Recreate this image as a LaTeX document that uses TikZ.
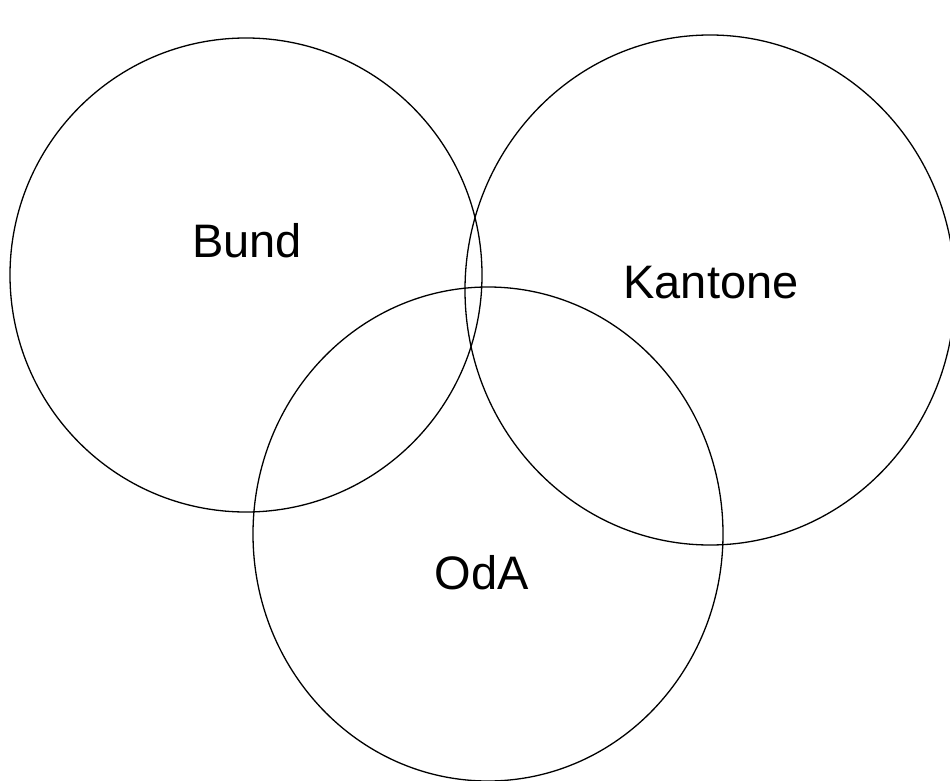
\documentclass[tikz,border=0pt]{standalone}
\usepackage{fontspec}
\setmainfont{Liberation Sans}
\begin{document}
\begin{tikzpicture}[x=1pt,y=-1pt,font=\fontsize{47}{56}\selectfont]
  \useasboundingbox[fill=white] (0,0) rectangle (950,781);
  \begin{scope}
    \clip (0,0) rectangle (950,781);
    \draw[line width=1.3pt] (246,275) ellipse[x radius=236,y radius=237];
    \draw[line width=1.3pt] (710,290) ellipse[x radius=245,y radius=255];
    \draw[line width=1.3pt] (488,534) ellipse[x radius=235,y radius=247];
  \end{scope}
  \node[anchor=base] (bund) at (247,257) {Bund};
  \node[anchor=base] (kantone) at (711,298) {Kantone};
  \node[anchor=base] (oda) at (482,589) {OdA};
\end{tikzpicture}
\end{document}
